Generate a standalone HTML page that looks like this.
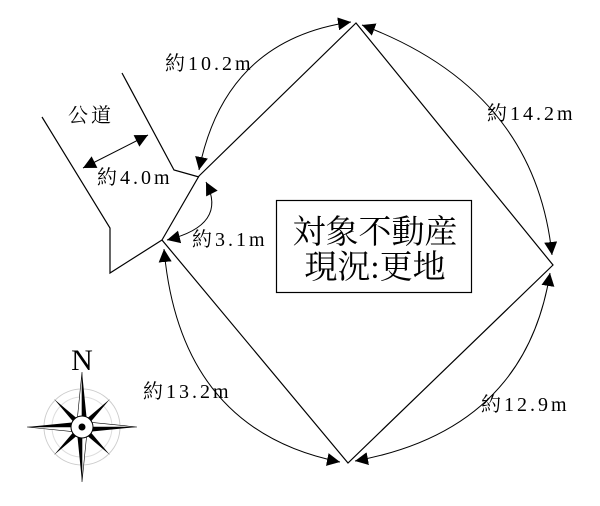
<!DOCTYPE html>
<html><head><meta charset="utf-8"><style>
html,body{margin:0;padding:0;background:#fff;width:600px;height:506px;overflow:hidden}
svg{display:block}
text{font-family:"Liberation Serif","Noto Serif CJK SC",serif;fill:#000}
</style></head><body>
<svg width="600" height="506" viewBox="0 0 600 506" xmlns="http://www.w3.org/2000/svg">
<defs>
<marker id="a" viewBox="0 0 10 10" refX="10" refY="5" markerWidth="13" markerHeight="13" markerUnits="userSpaceOnUse" orient="auto-start-reverse">
<path d="M0,0 L10,5 L0,10 z" fill="#000"/></marker>
</defs>
<g fill="none" stroke="#000" stroke-width="1.2">
<polygon points="199,176 356,23 553,265 348,463 162,240"/>
<polyline points="42,117 110,228 110,273 162,240"/>
<polyline points="122,73 174,170 199,177"/>
</g>
<g fill="none" stroke="#000" stroke-width="1" marker-start="url(#a)" marker-end="url(#a)">
<path d="M351,22 Q225,40 199,170"/>
<path d="M362,25 Q535,90 552,255"/>
<path d="M550,273 Q525,430 355,461"/>
<path d="M164,249 Q180,430 340,462"/>
<path d="M206,182 Q228,225 167,240"/>
<path d="M83,168 L148,135"/>
</g>
<rect x="276.5" y="200.5" width="195" height="92" fill="#fff" stroke="#000" stroke-width="1.2"/>
<text x="375" y="243" font-size="33" text-anchor="middle">対象不動産</text>
<text x="375" y="278" font-size="33" text-anchor="middle">現況:更地</text>
<g font-size="20" letter-spacing="3">
<text x="165" y="70">約10.2m</text>
<text x="68" y="122">公道</text>
<text x="97" y="184">約4.0m</text>
<text x="192" y="246">約3.1m</text>
<text x="487" y="120">約14.2m</text>
<text x="143" y="398">約13.2m</text>
<text x="481" y="411">約12.9m</text>
</g>
<text x="82" y="370" font-size="30" text-anchor="middle">N</text>
<g transform="translate(82,427)">
<circle r="38" fill="none" stroke="#ccc" stroke-width="1"/>
<circle r="30" fill="none" stroke="#ddd" stroke-width="1"/>
<g fill="#000">
<path d="M0,-55 L5,-5 L0,0 z"/><path d="M0,-55 L-5,-5 L0,0 z" fill="#fff" stroke="#000" stroke-width="0.6"/>
<path d="M0,55 L-5,5 L0,0 z"/><path d="M0,55 L5,5 L0,0 z" fill="#fff" stroke="#000" stroke-width="0.6"/>
<path d="M55,0 L5,5 L0,0 z"/><path d="M55,0 L5,-5 L0,0 z" fill="#fff" stroke="#000" stroke-width="0.6"/>
<path d="M-55,0 L-5,-5 L0,0 z"/><path d="M-55,0 L-5,5 L0,0 z" fill="#fff" stroke="#000" stroke-width="0.6"/>
<path d="M28,-28 L6,-2 L2,-6 z"/><path d="M-28,-28 L-2,-6 L-6,-2 z"/>
<path d="M28,28 L2,6 L6,2 z"/><path d="M-28,28 L-6,2 L-2,6 z"/>
</g>
<circle r="11" fill="#fff" stroke="#000" stroke-width="1"/>
<circle r="3.5" fill="#000"/>
</g>
</svg>
</body></html>
